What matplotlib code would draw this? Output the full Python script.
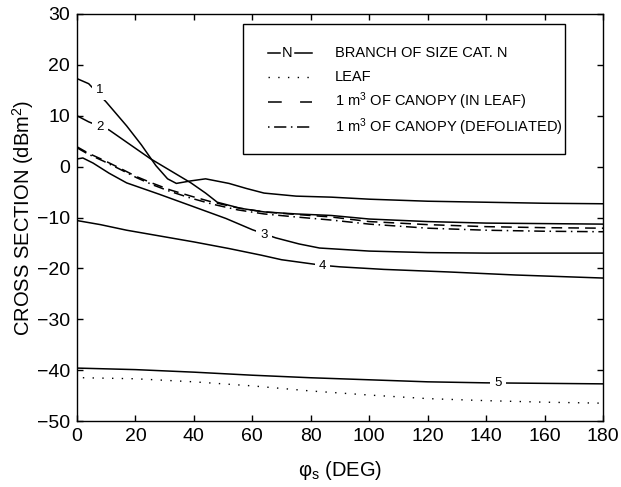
import numpy as np
import matplotlib
matplotlib.use("Agg")
import matplotlib.pyplot as plt
from matplotlib.patches import Rectangle

plt.rcParams['font.family'] = ['Liberation Sans', 'DejaVu Sans']
plt.rcParams['mathtext.fontset'] = 'custom'
plt.rcParams['mathtext.rm'] = 'Liberation Sans'
plt.rcParams['mathtext.it'] = 'Liberation Sans:italic'

# values (angle in deg, cross section in dBm^2)
x1 = [0, 4, 10, 17, 22, 27, 31, 34, 39, 44, 52, 58, 64, 75, 87, 100, 120, 140, 160, 180]
y1 = [17.3, 16.3, 12.7, 8.0, 4.3, 0.2, -2.4, -3.3, -2.8, -2.4, -3.3, -4.3, -5.2, -5.8, -6.0, -6.4, -6.8, -7.0, -7.2, -7.3]

x2 = [0, 4, 11, 18, 25, 32, 39, 44, 48, 56, 64, 75, 87, 100, 120, 140, 160, 180]
y2 = [10.0, 8.8, 7.2, 4.4, 1.6, -0.8, -3.2, -5.2, -7.0, -8.2, -8.9, -9.3, -9.6, -10.3, -10.8, -11.1, -11.2, -11.3]

x3 = [0, 2, 5.5, 11, 17, 28, 40, 51, 60, 68, 76, 83, 100, 120, 140, 160, 180]
y3 = [1.5, 1.7, 0.7, -1.3, -3.2, -5.4, -7.9, -10.2, -12.4, -14.0, -15.2, -16.0, -16.6, -16.9, -17.0, -17.0, -17.0]

x4 = [0, 8, 17, 28, 40, 52, 63, 70, 84, 90, 105, 127, 150, 180]
y4 = [-10.6, -11.4, -12.5, -13.6, -14.8, -16.1, -17.4, -18.3, -19.4, -19.7, -20.2, -20.7, -21.3, -21.9]

x5 = [0, 20, 40, 60, 80, 100, 120, 140, 160, 180]
y5 = [-39.6, -39.9, -40.4, -41.0, -41.5, -41.9, -42.3, -42.5, -42.6, -42.7]

x_leaf = [2, 20, 40, 60, 80, 100, 120, 140, 160, 180]
y_leaf = [-41.5, -41.7, -42.3, -43.1, -44.1, -44.9, -45.6, -46.0, -46.3, -46.5]

x_can = [0, 4, 9, 15, 20.5, 26, 32, 39, 46.5, 55, 64, 75, 87, 100, 120, 140, 160, 180]
y_inleaf = [3.9, 2.6, 1.3, -0.4, -2.0, -3.3, -4.6, -5.8, -7.0, -8.1, -8.9, -9.4, -9.9, -10.8, -11.4, -11.8, -12.0, -12.1]
y_defol = [3.7, 2.4, 1.1, -0.6, -2.2, -3.6, -4.9, -6.2, -7.4, -8.5, -9.3, -9.9, -10.5, -11.3, -12.1, -12.5, -12.7, -12.8]

branch_labels = ['1', '2', '3', '4', '5']
label_pos = [(7.9, 15.1), (7.9, 7.8), (64, -13.5), (84, -19.6), (144, -42.6)]

fig = plt.figure(figsize=(6.21, 4.87), dpi=100)
ax = fig.add_axes([77/621, 66/487, 526/621, 407/487])

lw = 1.1
for xs, ys in [(x1, y1), (x2, y2), (x3, y3), (x4, y4), (x5, y5)]:
    ax.plot(xs, ys, color='k', lw=lw)
ax.plot(x_leaf, y_leaf, color='k', lw=1.0, linestyle=(0, (1, 6)))
ax.plot(x_can, y_inleaf, color='k', lw=lw, linestyle=(0, (7, 4)))
ax.plot(x_can, y_defol, color='k', lw=lw, linestyle=(0, (7, 3, 1, 3)))

for lab, (lx, ly) in zip(branch_labels, label_pos):
    ax.text(lx, ly, lab, fontsize=9.5, ha='center', va='center', zorder=5,
            bbox=dict(facecolor='white', edgecolor='none', pad=3))

ax.set_xlim(0, 180)
ax.set_ylim(-50, 30)
ax.set_xticks(np.arange(0, 181, 20))
ax.set_yticks(np.arange(-50, 31, 10))
ax.tick_params(direction='in', length=4, width=1, top=True, right=True,
               labelsize=14, pad=5)
for s in ax.spines.values():
    s.set_linewidth(1.0)

ax.set_xlabel('φ$_\\mathregular{s}$ (DEG)', fontsize=14.5)
ax.set_ylabel('CROSS SECTION (dBm$^\\mathregular{2}$)', fontsize=14.5)
ax.xaxis.set_label_coords(0.5, -0.094)
ax.yaxis.set_label_coords(-0.077, 0.5)

# legend box drawn by hand
t = ax.transAxes
ax.add_patch(Rectangle((0.316, 0.656), 0.612, 0.319, transform=t, facecolor='white',
                       edgecolor='k', lw=1.0, zorder=6))
rows = [0.905, 0.846, 0.785, 0.723]
texts = ['BRANCH OF SIZE CAT. N', 'LEAF', '1 m$^\\mathregular{3}$ OF CANOPY (IN LEAF)',
         '1 m$^\\mathregular{3}$ OF CANOPY (DEFOLIATED)']
ax.plot([0.363, 0.386], [rows[0]] * 2, color='k', lw=lw, transform=t, zorder=7)
ax.plot([0.414, 0.447], [rows[0]] * 2, color='k', lw=lw, transform=t, zorder=7)
ax.text(0.400, rows[0], 'N', fontsize=10.5, ha='center', va='center', transform=t, zorder=7)
ax.plot([0.363, 0.447], [rows[1]] * 2, color='k', lw=1.0, linestyle=(0, (1, 6)), transform=t, zorder=7)
ax.plot([0.363, 0.447], [rows[2]] * 2, color='k', lw=lw, linestyle=(0, (9, 12)), transform=t, zorder=7)
ax.plot([0.363, 0.447], [rows[3]] * 2, color='k', lw=lw, linestyle=(0, (1, 3, 8, 3)), transform=t, zorder=7)
for r, s in zip(rows, texts):
    ax.text(0.490, r, s, fontsize=10.5, ha='left', va='center', transform=t, zorder=7)

fig.savefig('out.png', dpi=100)
